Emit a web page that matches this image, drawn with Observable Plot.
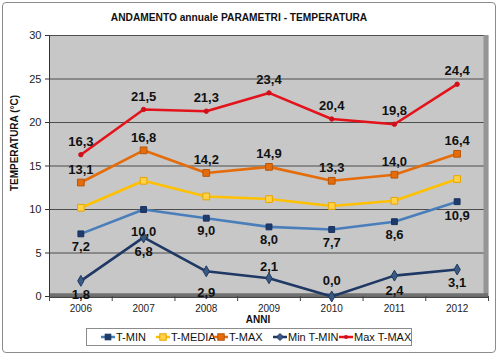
<!DOCTYPE html>
<html><head><meta charset="utf-8">
<script src="https://cdn.jsdelivr.net/npm/d3@7"></script>
<script src="https://cdn.jsdelivr.net/npm/@observablehq/plot@0.6"></script>
<style>
body{margin:0;background:#fff;font-family:"Liberation Sans",Arial,sans-serif;}
#wrap{position:relative;width:498px;height:354px;overflow:hidden;background:#fff;}
#border{position:absolute;left:2px;top:2px;width:494px;height:351px;border:1px solid #8c8c8c;border-radius:4px;box-sizing:border-box;pointer-events:none;}
#chart{position:absolute;left:0;top:0;}
#legend{position:absolute;left:86px;top:328px;width:326px;height:18px;border:1px solid #8c8c8c;box-sizing:border-box;background:#fff;}
.item{position:absolute;top:0;height:16px;display:flex;align-items:center;font-size:11px;color:#111;white-space:nowrap;}
.item svg{display:block;margin-right:1px;}
</style>
</head><body>
<div id="wrap"><div id="chart"></div><div id="legend"></div><div id="border"></div></div>
<script>
const years = [2006, 2007, 2008, 2009, 2010, 2011, 2012];
const tMin = [7.2, 10.0, 9.0, 8.0, 7.7, 8.6, 10.9];
const tMedia = [10.2, 13.3, 11.5, 11.2, 10.4, 11.0, 13.5];
const tMax = [13.1, 16.8, 14.2, 14.9, 13.3, 14.0, 16.4];
const minTMin = [1.8, 6.8, 2.9, 2.1, 0.0, 2.4, 3.1];
const maxTMax = [16.3, 21.5, 21.3, 23.4, 20.4, 19.8, 24.4];
const seriesNames = ["T-MIN", "T-MEDIA", "T-MAX", "Min T-MIN", "Max T-MAX"];
const yTicks = [0, 5, 10, 15, 20, 25, 30];
const title = "ANDAMENTO annuale PARAMETRI - TEMPERATURA";
const yLabel = "TEMPERATURA (°C)";
const xLabel = "ANNI";

// label placement (styling): vertical offsets of data labels
const tMinLabelDy = [13, 22, 13, 13, 13, 13, 14];
const minTMinLabelDy = [14, 14, 22, -11, -16, 15, 13];

const fmt = v => d3.format(".1f")(v).replace(".", ",");
const rows = years.map((year, i) => ({year, tMin: tMin[i], tMedia: tMedia[i], tMax: tMax[i], minTMin: minTMin[i], maxTMax: maxTMax[i], i}));
const boundaries = d3.range(years[0] - 0.5, years[years.length - 1] + 1, 1);

const styles = {
  tMin: {line: "#4a7ebb", fill: "#1f3b6e", stroke: "#17325e", symbol: "square", r: 3.3},
  tMedia: {line: "#ffc000", fill: "#ffd24a", stroke: "#e9a400", symbol: "square", r: 3.8},
  tMax: {line: "#e46c0a", fill: "#e46c0a", stroke: "#b8560a", symbol: "square", r: 3.8},
  minTMin: {line: "#1f3864", fill: "#3a5a82", stroke: "#1f3864", symbol: "diamond", r: 3.3},
  maxTMax: {line: "#e3131b", fill: "#d01018", stroke: "#d01018", symbol: "circle", r: 2.2}
};
const keys = ["tMin", "tMedia", "tMax", "minTMin", "maxTMax"];

const labelStyle = {fontSize: 13, fontWeight: "bold", fill: "#111", fontFamily: "Liberation Sans, Arial, sans-serif"};

const marks = [
  Plot.frame({fill: "#c7c7c7"}),
  Plot.gridY(yTicks, {stroke: "#404040", strokeOpacity: 1, strokeWidth: 0.9}),
  Plot.ruleX([boundaries[boundaries.length - 1]], {stroke: "#959595", strokeWidth: 5, dx: -2.5}),
  Plot.ruleY([0], {stroke: "#707070", strokeWidth: 3.5, dy: -1.5}),
  Plot.ruleX([boundaries[0]], {stroke: "#333"}),
  Plot.axisY(yTicks, {tickSize: 4, tickPadding: 4, fontSize: 11, label: null, stroke: "#333", fill: "#222"}),
  Plot.axisX(years, {tickSize: 0, tickPadding: 8, fontSize: 10, label: null, tickFormat: d => String(d), fill: "#222"}),
  Plot.axisX(boundaries, {tickSize: 5, tickFormat: () => "", label: null, stroke: "#444"}),
  Plot.ruleY([0], {stroke: "#444", strokeWidth: 1, dy: 1}),
];
for (const k of keys) {
  const s = styles[k];
  marks.push(Plot.line(rows, {x: "year", y: k, stroke: s.line, strokeWidth: 2.6}));
  marks.push(Plot.dot(rows, {x: "year", y: k, symbol: s.symbol, r: s.r, fill: s.fill, stroke: s.stroke, strokeWidth: 1}));
}
// data labels
for (const dy of new Set(tMinLabelDy)) {
  marks.push(Plot.text(rows.filter(d => tMinLabelDy[d.i] === dy), {x: "year", y: "tMin", text: d => fmt(d.tMin), dy, ...labelStyle}));
}
for (const dy of new Set(minTMinLabelDy)) {
  marks.push(Plot.text(rows.filter(d => minTMinLabelDy[d.i] === dy), {x: "year", y: "minTMin", text: d => fmt(d.minTMin), dy, ...labelStyle}));
}
marks.push(Plot.text(rows, {x: "year", y: "tMax", text: d => fmt(d.tMax), dy: -13, ...labelStyle}));
marks.push(Plot.text(rows, {x: "year", y: "maxTMax", text: d => fmt(d.maxTMax), dy: -13, ...labelStyle}));
// titles
marks.push(Plot.text([title], {frameAnchor: "top", dy: -18, dx: -30, lineAnchor: "middle", textAnchor: "middle", fontSize: 10.2, fontWeight: "bold", fill: "#111"}));
marks.push(Plot.text([yLabel], {frameAnchor: "left", dx: -35, dy: -23, rotate: -90, textAnchor: "middle", lineAnchor: "middle", fontSize: 10, fontWeight: "bold", fill: "#111"}));
marks.push(Plot.text([xLabel], {frameAnchor: "bottom", dy: 23, dx: -11, textAnchor: "middle", lineAnchor: "middle", fontSize: 10, fontWeight: "bold", fill: "#111"}));

const chart = Plot.plot({
  width: 498, height: 354,
  marginTop: 35, marginBottom: 58, marginLeft: 49, marginRight: 10,
  style: {fontFamily: "Liberation Sans, Arial, sans-serif", background: "transparent", overflow: "visible"},
  x: {type: "linear", domain: [boundaries[0], boundaries[boundaries.length - 1]]},
  y: {domain: [0, 30]},
  marks
});
document.getElementById("chart").appendChild(chart);

// legend
const legend = document.getElementById("legend");
const lefts = [100, 155, 213, 272, 338];
keys.forEach((k, i) => {
  const s = styles[k];
  const item = document.createElement("div");
  item.className = "item";
  item.style.left = (lefts[i] - 86) + "px";
  const sym = d3.create("svg").attr("width", 14).attr("height", 10);
  sym.append("line").attr("x1", 0).attr("x2", 14).attr("y1", 5).attr("y2", 5).attr("stroke", s.line).attr("stroke-width", 2.5);
  if (s.symbol === "square") {
    const w = s.r * 1.7;
    sym.append("rect").attr("x", 7 - w / 2).attr("y", 5 - w / 2).attr("width", w).attr("height", w).attr("fill", s.fill).attr("stroke", s.stroke);
  } else if (s.symbol === "diamond") {
    sym.append("path").attr("d", "M7,1.5L10.5,5L7,8.5L3.5,5Z").attr("fill", s.fill).attr("stroke", s.stroke);
  } else {
    sym.append("circle").attr("cx", 7).attr("cy", 5).attr("r", 2).attr("fill", s.fill);
  }
  item.appendChild(sym.node());
  const t = document.createElement("span");
  t.textContent = seriesNames[i];
  item.appendChild(t);
  legend.appendChild(item);
});
</script>
</body></html>
